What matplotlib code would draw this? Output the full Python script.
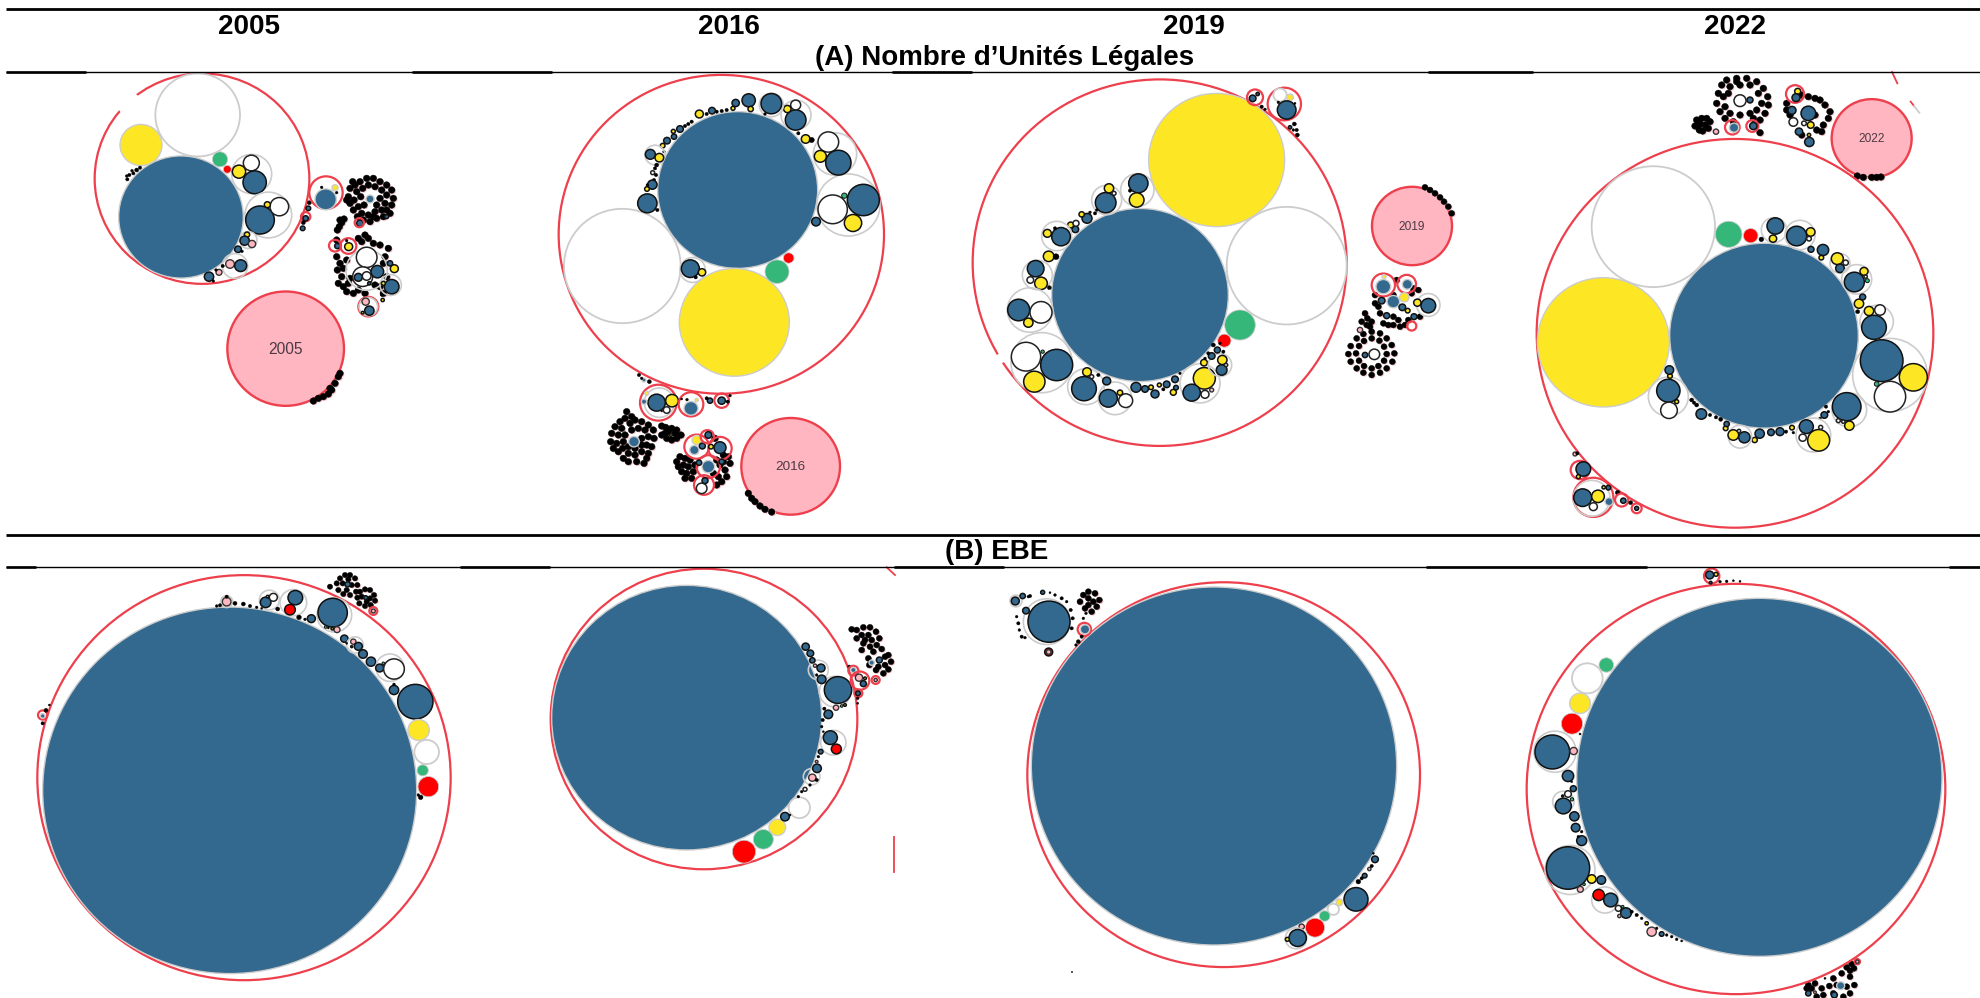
import matplotlib
matplotlib.use('Agg')
import matplotlib.pyplot as plt
from matplotlib.patches import Ellipse

plt.rcParams['font.family'] = ['Liberation Sans', 'DejaVu Sans']

W, H = 1981, 998
BLUE, YELLOW, GREEN, RED, PINK = '#33698f', '#fde725', '#35b779', '#ff0000', '#ffb6c1'
GRAY, RING = '#cccccc', '#ee3f4c'
SQUASH = 0.98   # les images sont un peu etirees en x

years = ['2005', '2016', '2019', '2022']
year_x = [249, 729, 1194, 1735]
titles = ['(A) Nombre d\u2019Unit\u00e9s L\u00e9gales', '(B) EBE']

# kind -> fill, edge, width
styles = {
    'R': ('none', RING, 1.6), 'o': ('none', GRAY, 1.2), 'P': (PINK, RING, 1.7),
    'B': (BLUE, GRAY, 1.0), 'Y': (YELLOW, GRAY, 1.0), 'W': ('white', GRAY, 1.3),
    'G': (GREEN, GRAY, 0.6), 'Q': (RED, GRAY, 0.6),
    'b': (BLUE, '#111111', 1.1), 'y': (YELLOW, '#111111', 1.1), 'w': ('white', '#222222', 1.1),
    'g': (GREEN, '#111111', 0.7), 'r': (RED, '#111111', 1.1), 'p': (PINK, '#333333', 1.0),
    'k': ('black', 'black', 0.3), 'E': ('white', 'none', 0),
    'h': ('#f3c3c8', 'none', 0),
}

# unites de chaque panneau : 1/3 de pixel
a05 = [('R',606,536,322),('E',388,312,36),('W',593,345,127),('Y',423,435,63),('B',543,651,187),('G',660,478,23),('Q',682,508,12),
       ('o',755,522,60),('y',717,515,20),('w',754,489,24),('b',764,547,35),
       ('o',805,645,70),('b',780,660,43),('w',838,620,28),('y',802,614,9),
       ('o',745,720,26),('y',741,704,8),('b',734,722,14),('p',756,732,11),('b',714,748,10),('k',726,754,4),
       ('o',705,798,38),('p',690,792,13),('b',722,797,18),('k',668,798,5),('p',657,817,9),('k',648,810,4),('b',627,830,14),('k',640,843,4),
       ('k',382,538,5),('k',388,525,5),('k',400,520,5),('k',410,510,6),('k',420,503,5),('k',396,512,4),('k',380,528,4),
       ('R',917,650,14),('b',925,625,7),('b',917,655,8),('k',910,668,6),('k',928,608,6),('b',908,685,7),
       ('R',978,578,50),('B',977,598,32),('Y',1005,563,9),('k',965,562,4),('k',1010,578,4),
       ('R',1005,737,18),('b',1012,738,8),('R',1045,738,24),('y',1046,740,12),('k',1040,722,4),
       ('o',1100,810,62),('w',1100,772,31),('w',1088,830,30),('b',1075,832,12),('w',1100,828,13),('b',1132,815,19),
       ('o',1172,855,32),('b',1175,860,22),('y',1150,850,6),('y',1183,806,12),('b',1170,790,8),('b',1108,850,5),
       ('R',1105,920,30),('o',1105,920,28),('p',1097,905,11),('b',1108,932,14),('y',1148,900,5),('k',1145,885,4),('y',1088,938,4),
       ('b',1080,670,10),('R',1078,668,14),('B',1110,597,12),('b',1160,650,6)]
a05_dots = [(1050,565),(1045,590),(1050,610),(1060,630),(1072,650),(1090,660),(1110,665),(1130,655),(1150,650),(1160,630),
            (1175,615),(1180,595),(1175,570),(1160,555),(1140,545),(1120,535),(1100,535),(1080,545),(1065,555),(1070,575),
            (1062,600),(1075,620),(1085,640),(1105,645),(1125,635),(1145,630),(1155,610),(1160,585),(1145,570),(1125,560),
            (1105,555),(1088,565),(1082,590),(1092,615),(1130,615),(1140,595),(1058,545),(1170,640),(1040,600),(1120,650),
            (1020,660),(1032,657),(1025,668),(1018,680),(1012,690),(1075,715),(1095,705),(1105,715),(1120,730),(1085,725),
            (1010,770),(1020,790),(1012,810),(1025,830),(1015,850),(1030,860),(1045,850),(1040,875),(1060,880),(1075,870),
            (1095,880),(1050,835),(1030,805),(1040,780),(1140,735),(1155,770),(1150,790),(1160,830),(1125,855),(1140,860),
            (1165,745),(1010,720),(1150,880),(940,1203),(955,1195),(970,1190),(985,1182),(995,1170),(1005,1150),(1015,1130),
            (1020,1120),(990,1165)]
a05_pink = [('P',857,1046,175)]

a16 = [('R',664,553,488),('W',367,648,175),('B',713,420,240),('Y',703,817,165),('G',831,665,36),('Q',866,624,16),
       ('o',1045,465,95),('b',1090,450,48),('w',998,478,44),('y',1059,519,26),('g',1033,437,8),('b',948,515,13),
       ('o',1005,312,65),('w',985,276,31),('y',961,319,18),('b',1015,338,38),
       ('o',888,195,45),('b',887,210,31),('w',887,165,15),('y',862,177,11),
       ('y',917,267,13),('k',935,270,8),('k',895,250,5),('o',814,165,36),('b',814,161,31),('k',795,192,4),
       ('b',746,151,20),('y',752,177,8),('b',707,159,11),('y',699,175,6),
       ('k',680,180,5),('k',665,183,5),('k',650,185,5),('b',636,182,10),('k',620,192,5),('y',598,192,12),('k',575,215,5),
       ('k',565,222,5),('k',555,228,5),('b',540,237,10),('y',520,244,6),('b',522,260,8),('b',501,272,10),('y',488,287,7),('k',492,305,4),
       ('o',465,315,30),('b',451,313,15),('y',478,323,13),('k',470,345,6),('k',465,355,5),('w',458,368,6),('k',468,375,5),('k',462,390,5),
       ('b',457,404,14),('y',441,417,7),('k',442,405,4),('b',442,460,29),('k',472,480,5),
       ('o',578,660,38),('b',571,656,27),('y',606,667,11),('k',587,682,5),
       ('k',417,975,5),('B',432,990,6),('k',448,995,6),('k',425,985,4),
       ('R',475,1058,55),('o',478,1058,45),('b',470,1058,26),('y',516,1052,19),('w',500,1080,10),('k',485,1083,3),('Y',440,1030,6),('B',432,1055,8),
       ('R',573,1063,37),('B',573,1075,21),('k',561,1049,4),('k',545,1047,3),('Y',590,1050,5),
       ('b',630,1052,8),('R',665,1052,22),('b',665,1052,11),('k',690,1037,4),('k',620,1045,5),('k',683,1055,5),
       ('B',402,1175,16),('y',513,1155,4),
       ('R',590,1190,37),('Y',590,1170,14),('B',583,1200,14),('R',660,1195,35),('b',660,1193,18),('y',633,1190,7),('b',607,1188,9),
       ('R',622,1160,20),('b',625,1155,10),('R',625,1250,35),('B',625,1250,19),('b',597,1238,8),
       ('R',612,1305,30),('w',605,1315,16),('b',615,1292,9),('b',665,1235,8)]
a16_dots = [(380,1085),(375,1105),(360,1115),(345,1130),(335,1150),(332,1175),(340,1195),(355,1205),(370,1225),(385,1235),
            (410,1235),(432,1240),(445,1210),(455,1190),(462,1165),(460,1140),(445,1125),(425,1115),(405,1110),(390,1120),
            (365,1135),(355,1155),(350,1180),(368,1195),(385,1210),(405,1215),(425,1205),(440,1185),(445,1160),(435,1140),
            (415,1135),(395,1140),(375,1155),(370,1175),(425,1165),(425,1185),(385,1190),(440,1225),(405,1195),(395,1100),
            (485,1128),(497,1132),(515,1135),(530,1140),(495,1150),(485,1155),(500,1165),(515,1170),(530,1165),(543,1155),(525,1150),(505,1145),
            (530,1235),(540,1220),(555,1225),(570,1230),(585,1245),(535,1250),(550,1245),(565,1250),(545,1265),(560,1270),(580,1265),(575,1285),(555,1285),
            (650,1230),(670,1215),(685,1220),(690,1240),(675,1260),(680,1280),(665,1295),(650,1305),(655,1280),(640,1270),(660,1245),(670,1235),(645,1165),
            (745,1330),(755,1345),(765,1355),(780,1368),(795,1378),(815,1386)]
a16_pink = [('P',872,1249,148)]

a19 = [('R',599,638,561),('E',122,925,15),('Y',770,330,204),('W',980,647,180),('B',540,735,265),('G',840,825,46),('Q',793,872,20),
       ('o',532,420,50),('b',535,400,29),('y',530,450,22),('k',510,422,5),
       ('o',440,450,45),('b',437,458,31),('y',447,415,14),('w',462,430,6),
       ('k',405,490,5),('b',381,505,15),('y',365,493,8),('k',390,487,4),('k',410,480,4),
       ('b',346,538,10),('y',332,525,9),('w',348,520,9),
       ('o',290,558,45),('b',303,560,28),('y',262,550,12),('k',285,535,5),('y',266,619,16),('k',288,620,9),
       ('o',232,675,45),('b',227,656,25),('y',243,700,19),('w',211,690,10),('k',268,713,6),
       ('o',210,780,68),('b',176,780,33),('w',243,787,33),('y',205,818,14),
       ('o',245,938,92),('w',198,920,44),('b',290,945,48),('y',223,995,32),('g',248,905,5),
       ('o',378,1010,55),('b',372,1016,37),('y',381,966,13),('w',395,980,6),
       ('o',465,1045,50),('b',445,1045,27),('w',497,1052,21),('y',480,1028,8),('b',440,993,12),('k',415,975,5),
       ('b',528,1012,15),('b',555,1017,10),('y',573,1012,7),('b',585,1032,12),('y',598,1005,6),('k',610,1018,5),('b',620,1003,10),
       ('b',645,988,10),('k',660,970,4),('y',640,1027,9),('b',648,1013,7),
       ('o',720,1000,60),('y',733,985,33),('b',695,1028,26),('w',735,1033,12),('p',755,1020,6),
       ('y',732,938,10),('o',780,945,35),('y',787,930,14),('b',785,960,16),('w',798,945,5),
       ('b',755,918,10),('b',772,900,9),('k',760,885,6),('k',745,910,5),('k',790,905,5),('k',735,925,4),('k',780,880,4),
       ('R',885,142,24),('b',878,145,10),('b',893,132,5),('k',905,170,5),('k',915,178,4),
       ('R',973,162,50),('W',960,135,20),('Y',990,142,10),('b',980,180,28),('k',955,157,4),('k',1005,160,3),
       ('k',1003,222,6),('b',990,232,5),('k',1010,240,5),('k',1012,255,6),('k',1000,240,4),
       ('R',1270,705,35),('B',1270,710,22),('Y',1272,680,6),('R',1340,702,28),('B',1342,703,15),
       ('o',1405,765,35),('b',1405,767,22),('y',1372,758,11),('B',1300,755,19),('Y',1333,742,14),('b',1327,772,10),('y',1343,782,7),
       ('b',1265,752,10),('b',1280,797,9),('b',1362,800,9),('R',1355,828,14),('p',1200,840,8),('w',1243,913,16),('b',1215,915,8)]
a19_dots = [(1245,735),(1255,770),(1245,760),(1260,790),(1300,800),(1315,810),(1285,825),(1270,820),(1300,825),(1320,830),(1335,825),
            (1360,715),(1375,720),(1355,730),(1380,800),(1345,810),(1310,690),(1300,735),
            (1205,815),(1222,805),(1235,815),(1220,825),(1230,830),(1215,790),
            (1235,845),(1260,850),(1280,865),(1295,885),(1303,910),(1297,935),(1280,955),(1260,968),(1235,975),(1210,968),(1190,955),
            (1172,935),(1165,912),(1172,888),(1190,865),(1210,852),(1235,865),(1258,872),(1272,890),(1280,912),(1272,932),(1255,948),
            (1235,955),(1212,948),(1197,932),(1188,910),(1197,888),(1212,873),
            (1395,412),(1410,420),(1425,430),(1440,442),(1452,455),(1465,470),(1475,490)]
a19_pink = [('P',1356,528,120)]

a22 = [('R',705,850,595),('W',460,530,185),('Y',310,877,198),('B',792,857,283),('G',686,553,40),('Q',752,557,22),
       ('o',822,540,38),('b',826,528,25),('y',819,566,11),('k',784,568,7),
       ('o',900,555,45),('b',890,558,30),('y',932,546,13),('w',927,566,7),('b',969,600,17),('b',933,598,9),('y',964,623,7),
       ('o',1020,640,30),('y',1012,626,18),('b',1020,655,13),('w',1037,638,8),
       ('o',1070,688,45),('b',1063,696,30),('y',1092,664,12),('g',1102,692,6),('w',1097,680,5),
       ('y',1077,761,14),('b',1088,741,9),('k',1073,785,6),
       ('o',1130,815,50),('b',1122,832,37),('y',1107,783,14),('w',1140,780,16),
       ('o',1170,975,112),('b',1145,932,64),('y',1240,982,42),('w',1170,1040,47),('g',1130,1002,7),
       ('o',1048,1080,52),('b',1040,1070,43),('y',1048,1127,14),('w',1015,1112,6),('w',1030,1115,5),
       ('b',973,1095,10),('k',978,1070,5),('k',985,1085,4),('k',960,1105,4),
       ('o',940,1155,52),('y',956,1171,33),('b',919,1130,21),('w',908,1163,11),('w',962,1132,6),
       ('y',876,1133,7),('k',880,1148,4),('b',840,1145,12),('b',813,1147,10),('b',779,1151,14),('y',764,1170,8),('k',858,1145,5),
       ('o',720,1160,35),('y',700,1155,16),('b',733,1162,17),('w',717,1143,5),
       ('y',677,1135,7),('b',680,1122,8),('k',662,1108,6),('k',648,1102,5),('k',630,1095,5),('b',604,1092,16),('k',590,1065,6),('k',575,1050,6),('k',582,1058,5),
       ('o',505,1040,60),('b',505,1022,35),('w',507,1081,25),('y',530,1055,6),('y',510,978,7),('b',508,960,13),
       ('p',225,1212,6),('k',232,1210,5),('R',240,1260,28),('b',250,1257,22),('y',235,1280,6),
       ('R',280,1342,60),('o',275,1345,55),('b',248,1343,27),('y',294,1339,19),('w',280,1370,12),
       ('B',327,1355,12),('b',325,1313,7),('y',311,1312,5),('k',353,1328,7),('R',365,1350,20),('b',370,1352,8),('k',392,1358,6),('R',410,1375,15),('b',410,1375,6),
       ('w',720,152,18),('b',750,150,9),('R',697,232,22),('B',702,233,14),('R',757,228,18),('b',760,228,11),('p',648,245,8),
       ('R',885,132,27),('y',893,124,9),('b',888,143,12),('b',876,181,12),('b',925,190,22),('w',880,216,13),('w',912,220,7),
       ('y',932,225,10),('y',927,255,5),('b',897,245,11),('b',928,276,14)]
a22_dots = [(680,90),(710,85),(740,85),(770,95),(790,115),(803,140),(805,165),(795,190),(780,210),(760,205),(700,215),(675,205),
            (660,185),(650,160),(655,130),(665,105),(690,110),(720,105),(750,105),(775,130),(785,160),(770,180),(750,190),(720,195),
            (690,190),(675,170),(670,140),(685,130),(780,248),(710,95),
            (590,210),(605,205),(620,205),(630,215),(585,228),(600,222),(615,225),(625,235),(598,240),(608,243),
            (860,160),(860,180),(870,195),(905,135),(925,140),(945,145),(960,150),(975,165),(990,185),(985,205),(970,225),(965,245),(950,240),(905,255),(945,195),
            (1072,378),(1090,382),(1115,382),(1130,382),(1143,381)]
a22_pink = [('P',1115,265,120)]

b05 = [('R',732,743,620),('B',689,781,561),
       ('o',808,210,30),('b',797,217,16),('w',820,202,12),('y',803,200,4),('o',880,218,40),('b',886,203,22),('r',870,239,16),('k',833,237,6),
       ('o',1003,255,52),('b',998,248,44),('p',1011,299,9),('y',997,296,4),('g',977,291,4),('k',985,294,3),
       ('b',934,266,12),('k',915,268,4),('k',897,262,7),('o',680,215,18),('p',680,215,13),('k',680,200,5),
       ('k',650,228,4),('k',660,226,5),('k',705,220,6),('k',730,222,6),('k',750,228,5),('k',770,232,4),('k',785,235,3),
       ('b',1033,326,11),('o',1065,345,25),('p',1060,335,8),('b',1075,349,12),('y',1055,350,3),('k',1040,340,3),
       ('b',1089,372,13),('b',1113,395,14),('o',1170,413,42),('b',1139,414,12),('g',1150,400,4),('w',1182,417,31),
       ('b',1182,480,14),('k',1182,463,4),('b',1246,515,53),
       ('Y',1256,600,32),('W',1280,666,37),('G',1268,721,17),('Q',1285,770,31),('k',1262,802,7),('k',1255,795,4),
       ('b',1043,163,8),('k',990,170,8),('b',1097,203,6),('R',1120,243,12),('p',1120,243,6),
       ('R',128,555,14),('B',128,558,7),('k',138,541,6),('k',128,580,5),('k',148,525,3)]
b05_dots = [(1020,145),(1035,135),(1050,135),(1065,145),(1072,165),(1068,185),(1050,195),(1030,192),(1015,180),(1010,160),
            (1028,160),(1055,165),(1040,180),(1045,148),(1080,185),(1095,178),(1110,180),(1122,195),(1125,212),(1112,225),
            (1095,228),(1078,220),(1072,203),(1100,215),(1085,200),(1110,205)]

b16 = [('R',552,507,460),('B',500,503,405),('Q',672,905,35),('G',730,868,30),('Y',772,832,25),('W',838,773,32),('b',795,800,13),('k',810,795,3),
       ('o',945,425,47),('b',954,420,41),('p',948,473,8),('g',965,468,4),('y',975,465,4),
       ('b',925,493,13),('k',913,476,5),('k',908,510,5),('o',940,578,38),('b',931,563,21),('r',949,597,15),
       ('k',905,530,4),('k',910,545,3),('b',902,605,7),('k',895,620,4),('o',875,680,25),('b',891,655,13),('p',877,683,11),('k',890,690,5),
       ('p',890,635,4),('k',870,705,4),('w',855,718,6),('k',845,725,4),('k',835,740,4),
       ('o',895,360,30),('b',857,290,11),('b',871,310,10),('b',877,331,8),('p',885,347,5),('b',903,354,12),('b',905,388,13),('k',890,375,4),
       ('k',988,350,5),('R',1000,362,15),('B',1000,360,8),('R',1020,392,28),('p',1017,383,11),('b',1030,401,9),('y',1035,385,4),
       ('R',1067,390,12),('p',1067,390,5),('R',1015,430,12),('b',1014,430,7),('k',1013,445,4),('k',1013,460,3),
       ('k',995,238,9),('b',1078,330,9),('B',1055,338,8)]
b16_dots = [(1010,240),(1030,232),(1050,232),(1068,245),(1078,265),(1070,285),(1050,290),(1030,280),(1010,265),(1025,255),(1045,255),(1055,270),(1035,270),(1025,300),
            (1060,305),(1085,297),(1105,315),(1113,335),(1105,358),(1090,370),(1068,360),(1048,345),(1045,325),(1095,345),(1075,350),(1095,320)]

b19 = [('R',671,614,589),('B',642,588,548),('b',1068,988,36),('Y',1018,997,10),('W',1000,1018,17),('G',974,1038,16),('Q',945,1073,29),('p',905,1070,8),
       ('o',888,1105,32),('b',893,1104,26),('y',862,1108,6),
       ('k',1075,935,7),('k',1085,925,5),('b',1094,917,7),('p',1108,897,5),('k',1115,888,5),('b',1125,868,10),('k',1120,850,3),
       ('o',140,155,70),('b',147,155,63),('b',78,122,10),('o',48,93,18),('b',46,93,12),('b',68,78,8),('k',90,78,5),('b',128,67,6),
       ('k',150,68,3),('k',165,75,4),('k',185,85,5),('k',200,95,4),('k',212,120,5),('k',218,145,5),('k',215,175,5),
       ('k',50,140,4),('k',55,160,5),('k',58,180,4),('k',65,200,5),('k',75,203,4),('k',85,80,4),
       ('R',253,178,20),('B',255,178,14),('r',146,246,12),('p',146,246,7),('k',235,215,6),('k',245,200,5),('k',228,225,4),
       ('k',250,145,4),('k',258,130,4),('k',216,1206,2)]
b19_dots = [(250,75),(265,65),(285,70),(298,90),(290,110),(275,125),(255,115),(240,95),(265,85),(280,95),(265,105)]

b22 = [('R',708,687,628),('B',778,652,548),('G',319,315,22),('W',262,355,46),('Y',240,430,31),('Q',216,491,32),
       ('o',165,575,63),('b',157,576,52),('p',221,573,11),('k',240,522,3),('b',204,648,17),('k',215,665,3),('b',220,686,9),
       ('o',190,725,32),('b',190,738,24),('w',204,702,10),('g',216,718,5),('y',188,708,3),
       ('b',223,769,14),('b',227,803,13),('b',245,842,15),('k',235,830,4),('k',245,815,4),
       ('o',210,930,75),('b',204,924,65),('y',275,957,13),('p',241,988,9),('g',252,973,4),('b',304,960,13),
       ('o',315,1020,40),('r',296,1005,17),('b',332,1020,21),('w',355,1045,9),('g',368,1040,4),('b',378,1059,16),('p',358,1068,5),('k',395,1055,5),
       ('k',410,1065,5),('k',425,1075,4),('y',440,1090,5),('k',470,1105,4),('p',455,1115,14),('b',485,1122,7),('k',500,1125,4),('k',515,1130,4),('k',530,1138,4),('k',545,1143,3),
       ('R',635,48,23),('b',629,45,12),('y',648,43,6),('b',632,68,4),('k',660,65,4),('k',680,64,4),('k',700,62,3),('k',720,64,3),
       ('B',1022,1277,12),('b',925,1300,8),('p',945,1297,4),('k',975,1255,3),('R',1072,1205,8),('p',1072,1205,5),('b',1003,1305,9)]
b22_dots = [(1000,1255),(1025,1240),(1050,1250),(1063,1275),(1050,1300),(1030,1310),(1000,1300),(988,1278),(1010,1275),(1040,1280),
            (925,1275),(945,1270),(965,1285),(970,1305),(920,1285),(950,1310),(935,1285),(1040,1222),(1055,1212),(1062,1225),(1050,1232)]

# bouts d'arcs laisses par le collage
a22_stray = [((1176,66),(1192,100),RING),((1232,155),(1242,168),RING),((1242,168),(1258,188),GRAY)]
b16_stray = [((1100,52),(1125,75),RING),((1123,860),(1123,965),RING)]

# crop (x0, y0, w, h), cercles, points, rayon des points, pastille, label, taille
panels = [((0,0,500,420), a05, a05_dots, 10, a05_pink, '2005', 11.2, []),
          ((500,50,480,480), a16, a16_dots, 10, a16_pink, '2016', 9.7, []),
          ((960,50,500,420), a19, a19_dots, 9, a19_pink, '2019', 8.6, []),
          ((1500,50,481,490), a22, a22_dots, 10, a22_pink, '2022', 8.6, a22_stray),
          ((0,530,500,468), b05, b05_dots, 8, [], None, 0, []),
          ((520,550,400,340), b16, b16_dots, 9, [], None, 0, b16_stray),
          ((1000,570,440,428), b19, b19_dots, 9, [], None, 0, []),
          ((1500,560,481,438), b22, b22_dots, 9, [], None, 0, [])]


def draw_circle(ax, kind, x, y, r):
    fill, edge, lw = styles[kind]
    ax.add_patch(Ellipse((x, y), 2*r, 2*r*SQUASH, facecolor=fill, edgecolor=edge, linewidth=lw, clip_on=False))


fig = plt.figure(figsize=(W/100, H/100), dpi=100)

for (x0, y0, w, h), circles, dots, dot_r, pink, label, size, stray in panels:
    ax = fig.add_axes([x0/W, 1-(y0+h)/H, w/W, h/H])
    ax.set_xlim(0, w*3)
    ax.set_ylim(h*3, 0)
    ax.axis('off')
    for kind, x, y, r in pink:
        draw_circle(ax, kind, x, y, r)
        ax.text(x, y+2, label, fontsize=size, color='#4a3a44', ha='center', va='center')
    # halo rose puis points noirs, sous les petites bulles
    for x, y in dots:
        draw_circle(ax, 'h', x+3, y+3, dot_r)
    for x, y in dots:
        draw_circle(ax, 'k', x, y, dot_r)
    for kind, x, y, r in circles:
        draw_circle(ax, kind, x, y, r)
    for p, q, c in stray:
        ax.plot([p[0], q[0]], [p[1], q[1]], color=c, lw=1.3)

# filets et titres, en pixels
top = fig.add_axes([0, 0, 1, 1], zorder=10)
top.set_xlim(0, W)
top.set_ylim(H, 0)
top.axis('off')
thick_a = [(6,86),(412,552),(892,972),(1428,1533)]
thick_b = [(6,36),(460,550),(894,1004),(1426,1647),(1949,1981)]
top.hlines([9, 535], 6, W, color='black', lw=2.0)
top.hlines([71.7, 566.8], 6, W, color='black', lw=1.0)
for a, b in thick_a:
    top.hlines(71.7, a, b, color='black', lw=1.9)
for a, b in thick_b:
    top.hlines(566.8, a, b, color='black', lw=1.9)
for yr, x in zip(years, year_x):
    top.text(x, 27, yr, fontsize=20, fontweight='bold', ha='center', va='center')
top.text(1005, 58, titles[0], fontsize=20, fontweight='bold', ha='center', va='center')
top.text(997, 552, titles[1], fontsize=20, fontweight='bold', ha='center', va='center')

fig.savefig('out.png', dpi=100)
